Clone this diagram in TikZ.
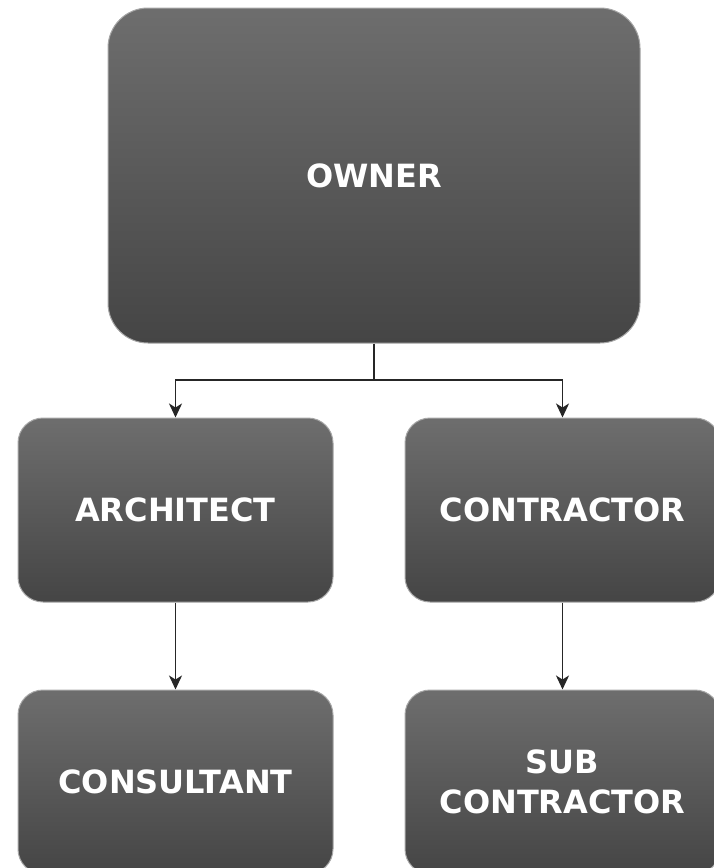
\documentclass[tikz,border=0pt]{standalone}
\usepackage{fontspec}
\setmainfont{DejaVu Sans}
\usetikzlibrary{arrows.meta,positioning}

\tikzset{
  role/.style={draw=black!35, line width=1pt, rounded corners=25pt,
    top color=black!57, bottom color=black!73, text=white,
    font=\fontsize{32}{40}\selectfont\bfseries, align=center,
    minimum width=315pt, minimum height=184pt, inner sep=0pt},
  link/.style={-{Stealth[length=14pt,width=13pt,inset=4pt]},
    line width=1.8pt, draw=black!85},
}

\begin{document}
\begin{tikzpicture}[x=1pt,y=1pt]

    \useasboundingbox (0,0) rectangle (713,-868);

    % owner
    \node[role, minimum width=532pt, minimum height=335pt,
      rounded corners=40pt] (owner) at (374,-175.5) {OWNER};

    % second row
    \node[role] (architect) at (175.5,-510) {ARCHITECT};
    \node[role] (contractor) at (562.5,-510) {CONTRACTOR};

    % third row
    \node[role] (consultant) at (175.5,-782) {CONSULTANT};
    \node[role] (sub) at (562.5,-782) {SUB\\CONTRACTOR};

    % edges
    \coordinate (split) at (374,-380);
    \draw[line width=1.8pt, draw=black!85] (owner.south) -- (split);
    \draw[link] (split) -| (architect.north);
    \draw[link] (split) -| (contractor.north);
    \draw[link] (architect) -- (consultant);
    \draw[link] (contractor) -- (sub);

  \end{tikzpicture}
\end{document}
